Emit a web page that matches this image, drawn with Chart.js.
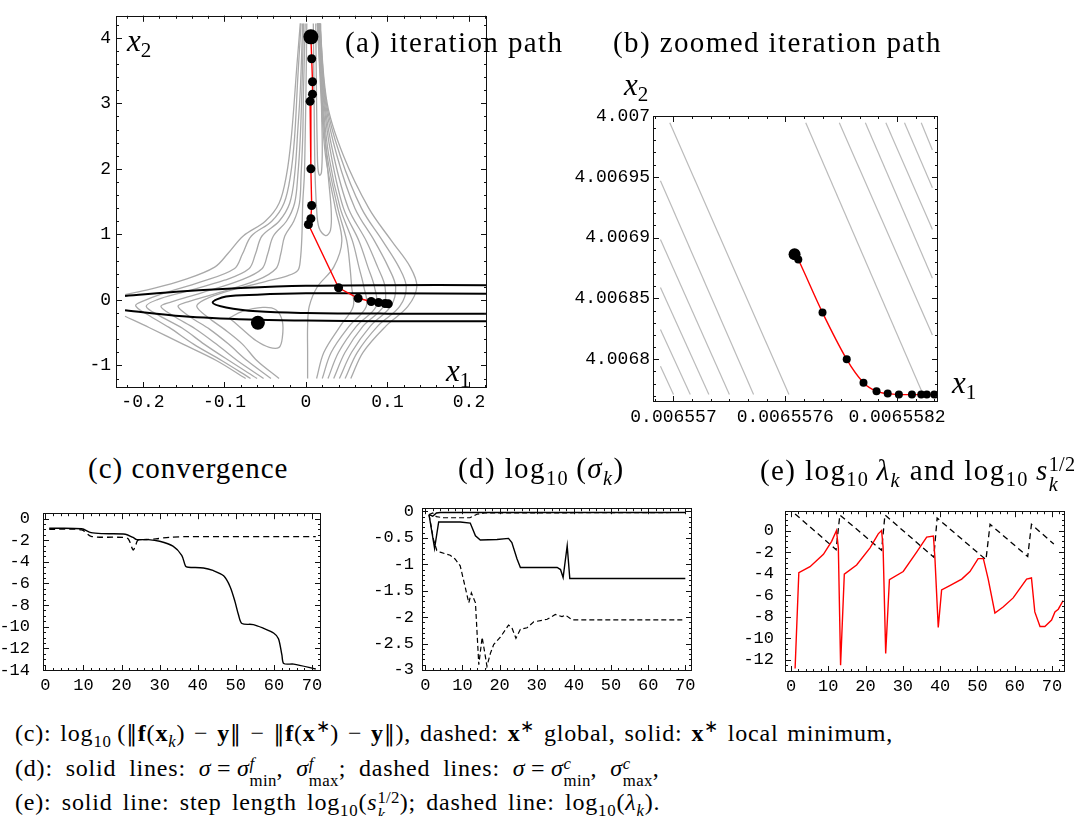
<!DOCTYPE html>
<html>
<head>
<meta charset="utf-8">
<script src="https://cdn.jsdelivr.net/npm/chart.js@4.4.1/dist/chart.umd.min.js"></script>
<style>
  body { margin: 0; background: #fff; }
  #fig { position: relative; width: 1088px; height: 816px; overflow: hidden; font-family: "Liberation Serif", serif; color: #000; }
  canvas { position: absolute; }
  .t { position: absolute; white-space: nowrap; line-height: 1; font-size: 29px; letter-spacing: 1.4px; }
  .ax { position: absolute; white-space: nowrap; line-height: 1; font-size: 31px; }
  .ax sub { font-size: 0.68em; vertical-align: -0.3em; line-height: 0; font-style: normal; }
  .cap { position: absolute; left: 15px; white-space: nowrap; line-height: 1; font-size: 24px; letter-spacing: 0.8px; word-spacing: 2px; }
  sub, sup { font-size: 0.7em; line-height: 0; }
  .ss { display: inline-flex; flex-direction: column; vertical-align: 0.42em; font-size: 0.7em; line-height: 1; letter-spacing: 0.3px; }
  .nb { font-family: "DejaVu Serif", serif; font-weight: normal; font-size: 0.9em; }
</style>
</head>
<body>
<div id="fig">
  <canvas id="chartA" width="445" height="420" style="left:56px;top:0px;width:445px;height:420px"></canvas>
  <canvas id="chartB" width="412" height="330" style="left:540px;top:100px;width:412px;height:330px"></canvas>
  <canvas id="chartC" width="336" height="205" style="left:0px;top:490px;width:336px;height:205px"></canvas>
  <canvas id="chartD" width="346" height="205" style="left:360px;top:490px;width:346px;height:205px"></canvas>
  <canvas id="chartE" width="352" height="205" style="left:728px;top:490px;width:352px;height:205px"></canvas>

  <div class="t" style="left:345px;top:28px">(a) iteration path</div>
  <div class="ax" style="left:127px;top:25px"><i>x</i><sub>2</sub></div>
  <div class="ax" style="left:446px;top:355px"><i>x</i><sub>1</sub></div>

  <div class="t" style="left:613px;top:28px">(b) zoomed iteration path</div>
  <div class="ax" style="left:624px;top:69px"><i>x</i><sub>2</sub></div>
  <div class="ax" style="left:952px;top:367px"><i>x</i><sub>1</sub></div>

  <div class="t" style="left:88px;top:454px;letter-spacing:1px">(c) convergence</div>
  <div class="t" style="left:458px;top:454px">(d) log<sub>10</sub>&thinsp;(<i>σ<sub>k</sub></i>)</div>
  <div class="t" style="left:760px;top:454px">(e) log<sub>10</sub>&thinsp;<i>λ<sub>k</sub></i> and log<sub>10</sub>&thinsp;<i>s</i><span class="ss"><span>1/2</span><span><i>k</i></span></span></div>

  <div class="cap" style="top:721px">(c): log<sub>10</sub>&thinsp;(<span class="nb">‖</span><b>f</b>(<b>x</b><sub><i>k</i></sub>) − <b>y</b><span class="nb">‖</span> − <span class="nb">‖</span><b>f</b>(<b>x</b><sup>∗</sup>) − <b>y</b><span class="nb">‖</span>), dashed: <b>x</b><sup>∗</sup> global, solid: <b>x</b><sup>∗</sup> local minimum,</div>
  <div class="cap" style="top:756px;word-spacing:6px">(d): solid lines: <i>σ</i>&thinsp;=&thinsp;<i>σ</i><span class="ss"><span><i>f</i></span><span>min</span></span>, <i>σ</i><span class="ss"><span><i>f</i></span><span>max</span></span>; dashed lines: <i>σ</i>&thinsp;=&thinsp;<i>σ</i><span class="ss"><span><i>c</i></span><span>min</span></span>, <i>σ</i><span class="ss"><span><i>c</i></span><span>max</span></span>,</div>
  <div class="cap" style="top:790px;word-spacing:3.5px">(e): solid line: step length log<sub>10</sub>(<i>s</i><span class="ss"><span>1/2</span><span><i>k</i></span></span>); dashed line: log<sub>10</sub>(<i>λ<sub>k</sub></i>).</div>
</div>

<script>
// ---------- (a) iteration path ----------
const xTicksA = [-0.2, -0.1, 0, 0.1, 0.2]
const xLabelsA = ["-0.2", "-0.1", "0", "0.1", "0.2"]
const yTicksA = [-1, 0, 1, 2, 3, 4]
const yLabelsA = ["-1", "0", "1", "2", "3", "4"]

const pathA = [[0.006, 4.015], [0.007, 3.68], [0.008, 3.33], [0.008, 3.14], [0.005, 3.03], [0.006, 2.0],
  [0.007, 1.44], [0.006, 1.24], [0.003, 1.15], [0.04, 0.185], [0.064, 0.025], [0.08, -0.025],
  [0.089, -0.04], [0.097, -0.055], [0.101, -0.06]]
const startA = [[0.006, 4.015]]
const globalMinA = [[-0.059, -0.35]]

// black contour lines
const blackUpperA = [[-0.222, 0.06], [-0.15, 0.13], [-0.08, 0.18], [0, 0.215], [0.1, 0.225], [0.222, 0.225]]
const blackInnerA = [[0.222, 0.095], [0.1, 0.1], [0, 0.1], [-0.06, 0.08], [-0.098, 0.05], [-0.1145, -0.04],
  [-0.098, -0.115], [-0.06, -0.175], [0, -0.2], [0.1, -0.21], [0.222, -0.21]]
const blackLowerA = [[-0.222, -0.16], [-0.151, -0.25], [-0.07, -0.3], [0, -0.315], [0.1, -0.325], [0.222, -0.325]]

// grey contour lines, left family
const grayL0a = [[-0.007, 4.22], [-0.011, 3.6], [-0.018, 2.48], [-0.024, 1.9], [-0.033, 1.475], [-0.05, 1.2],
  [-0.077, 0.975], [-0.095, 0.72], [-0.112, 0.5], [-0.151, 0.3], [-0.192, 0.16], [-0.222, 0.08]]
const grayL0b = [[-0.222, -0.25], [-0.192, -0.425], [-0.151, -0.675], [-0.11, -0.925], [-0.074, -1.2]]
const grayL1 = [[-0.006, 4.22], [-0.01, 3.4], [-0.014, 2.48], [-0.019, 1.9], [-0.027, 1.475], [-0.042, 1.2],
  [-0.067, 0.975], [-0.078, 0.7], [-0.088, 0.475], [-0.13, 0.27], [-0.175, 0.1], [-0.2, -0.02],
  [-0.209, -0.09], [-0.195, -0.22], [-0.168, -0.42], [-0.138, -0.675], [-0.103, -0.93], [-0.068, -1.2]]
const grayL2 = [[-0.004, 4.22], [-0.007, 3.2], [-0.01, 2.6], [-0.014, 1.9], [-0.02, 1.475], [-0.033, 1.2],
  [-0.054, 0.975], [-0.062, 0.7], [-0.07, 0.475], [-0.1, 0.3], [-0.15, 0.12], [-0.183, 0.0],
  [-0.196, -0.1], [-0.18, -0.24], [-0.152, -0.43], [-0.125, -0.675], [-0.094, -0.93], [-0.06, -1.2]]
const grayL3 = [[-0.003, 4.22], [-0.005, 3.2], [-0.007, 2.48], [-0.01, 1.9], [-0.014, 1.475], [-0.024, 1.2],
  [-0.04, 0.975], [-0.047, 0.7], [-0.054, 0.475], [-0.08, 0.3], [-0.13, 0.1], [-0.165, -0.03],
  [-0.178, -0.1], [-0.162, -0.25], [-0.136, -0.44], [-0.11, -0.675], [-0.084, -0.93], [-0.052, -1.2]]
const grayL4 = [[-0.001, 4.22], [-0.003, 3.2], [-0.004, 2.48], [-0.006, 1.9], [-0.008, 1.475], [-0.015, 1.2],
  [-0.026, 0.975], [-0.031, 0.7], [-0.037, 0.475], [-0.06, 0.3], [-0.11, 0.1], [-0.145, -0.03],
  [-0.157, -0.1], [-0.142, -0.26], [-0.118, -0.45], [-0.095, -0.675], [-0.072, -0.93], [-0.043, -1.2]]
const grayL5 = [[0.001, 4.22], [0.0, 3.2], [-0.001, 2.48], [-0.002, 1.9], [-0.004, 1.475], [-0.005, 0.975],
  [-0.007, 0.6], [-0.01, 0.45], [-0.022, 0.37], [-0.05, 0.28], [-0.1, 0.12], [-0.125, 0.0], [-0.134, -0.1],
  [-0.12, -0.27], [-0.1, -0.45], [-0.078, -0.675], [-0.06, -0.93], [-0.033, -1.2]]
const grayLoop = [[-0.094, -0.275], [-0.078, -0.175], [-0.053, -0.115], [-0.037, -0.15], [-0.029, -0.325],
  [-0.029, -0.575], [-0.033, -0.725], [-0.045, -0.725], [-0.061, -0.625], [-0.078, -0.45], [-0.094, -0.275]]
const grayT1 = [[0.012, 4.22], [0.013, 3.0], [0.014, 2.2], [0.015, 1.97], [0.017, 1.9], [0.019, 1.95],
  [0.02, 2.3], [0.019, 3.0], [0.018, 4.22]]
const grayT2 = [[0.009, 4.22], [0.01, 3.0], [0.011, 2.0], [0.013, 1.4], [0.016, 1.1], [0.024, 0.98],
  [0.03, 1.06], [0.031, 1.35], [0.028, 1.8], [0.023, 2.5], [0.019, 3.2], [0.017, 4.22]]

// grey contour lines, right family (x at the shared heights below)
const rightY = [4.22, 3.0, 2.2, 1.4, 0.9, 0.5, 0.2, -0.1, -0.4, -0.8, -1.2]
const grayR0 = [0.017, 0.026, 0.046, 0.077, 0.105, 0.128, 0.136, 0.125, 0.098, 0.07, 0.055]
const grayR1 = [0.017, 0.025, 0.042, 0.068, 0.094, 0.114, 0.123, 0.115, 0.088, 0.063, 0.048]
const grayR2 = [0.016, 0.024, 0.038, 0.06, 0.084, 0.101, 0.11, 0.104, 0.079, 0.056, 0.041]
const grayR3 = [0.016, 0.023, 0.034, 0.052, 0.074, 0.088, 0.097, 0.095, 0.07, 0.048, 0.034]
const grayR4 = [0.015, 0.022, 0.031, 0.046, 0.065, 0.076, 0.084, 0.086, 0.062, 0.04, 0.027]
const grayR5 = [0.015, 0.021, 0.028, 0.042, 0.057, 0.065, 0.071, 0.074, 0.053, 0.031, 0.02]
const grayR6 = [0.014, 0.02, 0.026, 0.039, 0.05, 0.054, 0.056, 0.058, 0.042, 0.022, 0.013]
const grayR7 = [0.014, 0.019, 0.024, 0.036, 0.044, 0.034, 0.014, 0.004, 0.002, 0.002, 0.002]

// ---------- (b) zoomed iteration path ----------
const xTicksB = [0.006557, 0.0065576, 0.0065582]
const xLabelsB = ["0.006557", "0.0065576", "0.0065582"]
const yTicksB = [4.0068, 4.00685, 4.0069, 4.00695, 4.007]
const yLabelsB = ["4.0068", "4.00685", "4.0069", "4.00695", "4.007"]

const pathB = [[0.00655765, 4.0068864], [0.00655767, 4.006882], [0.0065578, 4.0068384], [0.00655793, 4.0068],
  [0.00655802, 4.0067808], [0.00655809, 4.0067737], [0.00655815, 4.0067718], [0.00655821, 4.006771],
  [0.00655828, 4.006771], [0.00655833, 4.006771], [0.00655836, 4.006771], [0.0065584, 4.006771]]
const startB = [[0.00655765, 4.0068864]]
const grayLinesB = [
  [[0.00655698, 4.0069945], [0.00655762, 4.006771]],
  [[0.00655771, 4.0069945], [0.00655834, 4.006771]],
  [[0.00655789, 4.0069945], [0.00655839, 4.00682]],
  [[0.00655803, 4.0069945], [0.00655839, 4.0068667]],
  [[0.00655814, 4.0069945], [0.00655839, 4.0069067]],
  [[0.00655824, 4.0069945], [0.00655839, 4.006941]],
  [[0.00655833, 4.0069945], [0.00655839, 4.006972]],
  [[0.00655693, 4.0069468], [0.00655743, 4.006771]],
  [[0.00655693, 4.0068985], [0.0065573, 4.006771]],
  [[0.00655693, 4.006859], [0.00655719, 4.006771]],
  [[0.00655693, 4.0068245], [0.00655709, 4.006771]],
  [[0.00655693, 4.0067942], [0.006557, 4.006771]]
]

// ---------- (c), (d), (e) shared iteration axis ----------
const xTicksIter = [0, 10, 20, 30, 40, 50, 60, 70]
const xLabelsIter = ["0", "10", "20", "30", "40", "50", "60", "70"]

// (c) convergence
const yTicksC = [-14, -12, -10, -8, -6, -4, -2, 0]
const yLabelsC = ["-14", "-12", "-10", "-8", "-6", "-4", "-2", "0"]
const convLocal = [[1, -0.9], [9.5, -0.95], [12, -1.3], [15, -1.4], [21, -1.45], [23, -1.75], [24, -1.95],
  [27, -1.95], [30, -2.1], [33.5, -2.55], [35.8, -3.4], [36.8, -4.4], [37.5, -4.5], [41.5, -4.57],
  [44, -4.8], [46.8, -5.3], [48.5, -6.3], [49.8, -7.7], [50.7, -8.9], [51.6, -9.7], [54.6, -9.8],
  [57.3, -10.15], [60, -10.6], [61.2, -11.1], [62.1, -12.6], [62.6, -13.4], [65.2, -13.45], [71, -13.9]]
const convGlobal = [[1, -1.0], [9.5, -1.05], [12, -1.65], [20.4, -1.75], [21.8, -1.9], [23, -2.9],
  [23.6, -2.6], [24.3, -2.0], [26.6, -1.95], [29, -1.88], [32.7, -1.73], [37, -1.68], [71, -1.68]]

// (d) log10 sigma
const yTicksD = [-3, -2.5, -2, -1.5, -1, -0.5, 0]
const yLabelsD = ["-3", "-2.5", "-2", "-1.5", "-1", "-0.5", "0"]
const sigmaMaxF = [[1, -0.06], [2, -0.09], [3, -0.03], [4, -0.02], [70, -0.02]]
const sigmaMinF = [[1, -0.06], [2.5, -0.7], [3.6, -0.2], [9.4, -0.2], [12.1, -0.22], [13.5, -0.46],
  [14.8, -0.54], [19.3, -0.53], [22.4, -0.51], [23.3, -0.59], [24.7, -0.9], [25.6, -1.06], [35.5, -1.06],
  [36.4, -1.1], [37.1, -1.25], [38.2, -0.65], [38.9, -1.27], [70, -1.27]]
const sigmaMaxC = [[1, -0.06], [2, -0.03], [3, -0.1], [5, -0.12], [12, -0.12], [14, -0.05], [16, -0.03], [70, -0.02]]
const sigmaMinC = [[1, -0.06], [2.2, -0.53], [3.1, -0.74], [4, -0.77], [6.7, -0.83], [8, -0.9], [9.4, -1.03],
  [10.8, -1.45], [11.7, -1.73], [12.4, -1.54], [13.5, -1.73], [14.4, -2.9], [15.3, -2.38], [15.9, -2.63],
  [16.6, -2.93], [17.5, -2.69], [18.4, -2.52], [20.2, -2.38], [22.4, -2.15], [23.3, -2.2], [24.4, -2.4],
  [25.6, -2.23], [27.4, -2.2], [29.2, -2.09], [32.8, -2.04], [35, -1.95], [36.8, -1.99], [37.7, -1.96],
  [39.5, -2.05], [70, -2.05]]

// (e) log10 lambda and log10 s^(1/2)
const yTicksE = [-12, -10, -8, -6, -4, -2, 0]
const yLabelsE = ["-12", "-10", "-8", "-6", "-4", "-2", "0"]
const lambdaLog = [[1.1, 1.55], [12.1, -1.77], [13.1, 1.45], [24.3, -1.83], [25.2, 1.45], [38.3, -2.47],
  [39.2, 1.16], [52.3, -2.7], [53.4, 0.58], [63.5, -2.41], [64.5, 0.58], [70.5, -1.25]]
const stepLog = [[1.1, -12.8], [2.1, -3.9], [5.1, -3.35], [8.7, -2.2], [10.9, -1.0], [12.2, 0], [12.7, -1.6],
  [13.3, -12.5], [14.3, -4.05], [17.6, -3.2], [21.2, -1.6], [23.4, -0.3], [24.3, 0], [24.7, -1.5],
  [25.4, -11.4], [26.4, -4.55], [30.1, -3.8], [33.7, -2.0], [36.4, -0.6], [38.2, -0.5], [38.6, -2.5],
  [39.5, -9.0], [40.4, -5.5], [42.6, -5.1], [45.8, -4.5], [48, -3.8], [50.2, -2.6], [51.6, -2.6],
  [52.9, -4.5], [54.7, -7.65], [56.9, -7.1], [59.6, -6.25], [63.2, -4.5], [64.5, -4.4], [65.4, -7.55],
  [66.8, -8.9], [68.1, -8.9], [69.9, -8.3], [70.8, -7.55], [71.7, -7.3], [73, -6.5]]

// ---------- helpers ----------
const pts = (arr) => arr.map(([x, y]) => ({ x, y }))
const zipY = (xs) => xs.map((x, i) => ({ x, y: rightY[i] }))

function line(data, color, width, opts = {}) {
  return Object.assign({ data, showLine: true, borderColor: color, borderWidth: width, pointRadius: 0,
    fill: false, tension: 0 }, opts)
}
function dots(data, r, order) {
  return { data, showLine: false, pointRadius: r, pointBackgroundColor: "#000", pointBorderWidth: 0, order }
}

// frame with inward major and minor ticks on all four sides
const frameTicks = {
  id: "frameTicks",
  afterDatasetsDraw(chart, args, o) {
    const { ctx, chartArea: a, scales } = chart
    ctx.save()
    ctx.strokeStyle = "#111"
    ctx.lineWidth = 1
    ctx.beginPath()
    const minors = (sc, sub) => {
      const maj = sc.ticks.map((t) => t.value)
      const step = (maj[1] - maj[0]) / sub
      const out = []
      for (let v = maj[0]; v >= sc.min; v -= step) out.push(v)
      for (let v = maj[0] + step; v <= sc.max; v += step) out.push(v)
      return out
    }
    const sx = scales.x, sy = scales.y
    const put = (sc, vals, len, horiz) => {
      vals.forEach((v) => {
        const p = Math.round(sc.getPixelForValue(v)) + 0.5
        if (horiz) {
          if (p < a.left || p > a.right) return
          ctx.moveTo(p, a.bottom); ctx.lineTo(p, a.bottom - len)
          ctx.moveTo(p, a.top); ctx.lineTo(p, a.top + len)
        } else {
          if (p < a.top || p > a.bottom) return
          ctx.moveTo(a.left, p); ctx.lineTo(a.left + len, p)
          ctx.moveTo(a.right, p); ctx.lineTo(a.right - len, p)
        }
      })
    }
    put(sx, minors(sx, o.xSub), 3, true)
    put(sx, sx.ticks.map((t) => t.value), 6, true)
    put(sy, minors(sy, o.ySub), 3, false)
    put(sy, sy.ticks.map((t) => t.value), 6, false)
    ctx.stroke()
    ctx.strokeRect(Math.round(a.left) + 0.5, Math.round(a.top) + 0.5, Math.round(a.right - a.left) - 1, Math.round(a.bottom - a.top) - 1)
    ctx.restore()
  }
}

function axis(min, max, ticks, labels, size, pad, font, horiz) {
  return {
    type: "linear", min, max,
    afterBuildTicks: (s) => { s.ticks = ticks.map((v) => ({ value: v })) },
    afterFit: (s) => { if (horiz) s.height = size; else s.width = size },
    ticks: { callback: (v, i) => labels[i], color: "#000", padding: pad, autoSkip: false, maxRotation: 0,
      font: { family: "Liberation Mono", size: font } },
    grid: { display: false, drawTicks: false },
    border: { display: false }
  }
}

function makeChart(id, datasets, xs, ys, pad, sub) {
  return new Chart(document.getElementById(id), {
    type: "scatter",
    data: { datasets },
    options: {
      responsive: false, animation: false, events: [],
      layout: { padding: { top: pad.top, right: pad.right, left: 0, bottom: 0 } },
      plugins: { legend: { display: false }, tooltip: { enabled: false }, frameTicks: sub },
      scales: { x: xs, y: ys }
    },
    plugins: [frameTicks]
  })
}

// ---------- (a) ----------
const GRAY = "#a9a9a9"
const grayA = [grayL0a, grayL0b, grayL1, grayL2, grayL3, grayL4, grayL5, grayLoop, grayT1, grayT2]
  .map((c) => line(pts(c), GRAY, 1.3, { tension: 0.35, order: 4 }))
  .concat([grayR0, grayR1, grayR2, grayR3, grayR4, grayR5, grayR6, grayR7]
    .map((c) => line(zipY(c), GRAY, 1.3, { tension: 0.35, order: 4 })))
const blackA = [blackUpperA, blackInnerA, blackLowerA].map((c) => line(pts(c), "#000", 2, { tension: 0.35, order: 3 }))
makeChart("chartA",
  [dots(pts(startA), 7.5, 0), dots(pts(globalMinA), 7, 0), dots(pts(pathA), 4.5, 1),
    line(pts(pathA), "#ff0000", 1.4, { order: 2 })].concat(blackA, grayA),
  axis(-0.2331, 0.2221, xTicksA, xLabelsA, 32, 3, 18, true),
  axis(-1.345, 4.336, yTicksA, yLabelsA, 60, 5, 18, false),
  { top: 9, right: 14 }, { xSub: 5, ySub: 5 })

// ---------- (b) ----------
makeChart("chartB",
  [dots(pts(startB), 6, 0), dots(pts(pathB), 4, 1), line(pts(pathB), "#ff0000", 1.4, { tension: 0.3, order: 2 })]
    .concat(grayLinesB.map((c) => line(pts(c), "#bbbbbb", 1.2, { order: 4 }))),
  axis(0.00655689, 0.00655842, xTicksB, xLabelsB, 28, 4, 18, true),
  axis(4.0067649, 4.007, yTicksB, yLabelsB, 113, 3, 18, false),
  { top: 16, right: 14 }, { xSub: 6, ySub: 5 })

// ---------- (c) ----------
makeChart("chartC",
  [line(pts(convLocal), "#000", 1.4, { tension: 0.3 }),
    line(pts(convGlobal), "#000", 1.3, { tension: 0.3, borderDash: [6, 4] })],
  axis(-0.63, 72.37, xTicksIter, xLabelsIter, 24, 4, 17, true),
  axis(-14.09, 0.49, yTicksC, yLabelsC, 43, 13, 17, false),
  { top: 11, right: 15 }, { xSub: 5, ySub: 4 })

// ---------- (d) ----------
makeChart("chartD",
  [line(pts(sigmaMaxF), "#000", 1.4), line(pts(sigmaMinF), "#000", 1.4),
    line(pts(sigmaMaxC), "#000", 1.2, { borderDash: [5, 3] }),
    line(pts(sigmaMinC), "#000", 1.2, { borderDash: [5, 3] })],
  axis(-0.89, 71.8, xTicksIter, xLabelsIter, 24, 4, 17, true),
  axis(-3.019, 0.061, yTicksD, yLabelsD, 62, 8, 17, false),
  { top: 15, right: 14 }, { xSub: 5, ySub: 5 })

// ---------- (e) ----------
makeChart("chartE",
  [line(pts(stepLog), "#ff0000", 1.4),
    line(pts(lambdaLog), "#000", 1.3, { borderDash: [6, 4] })],
  axis(-1.61, 73.5, xTicksIter, xLabelsIter, 23, 4, 17, true),
  axis(-13.13, 1.8, yTicksE, yLabelsE, 57, 11, 17, false),
  { top: 11, right: 15 }, { xSub: 5, ySub: 4 })
</script>
</body>
</html>
